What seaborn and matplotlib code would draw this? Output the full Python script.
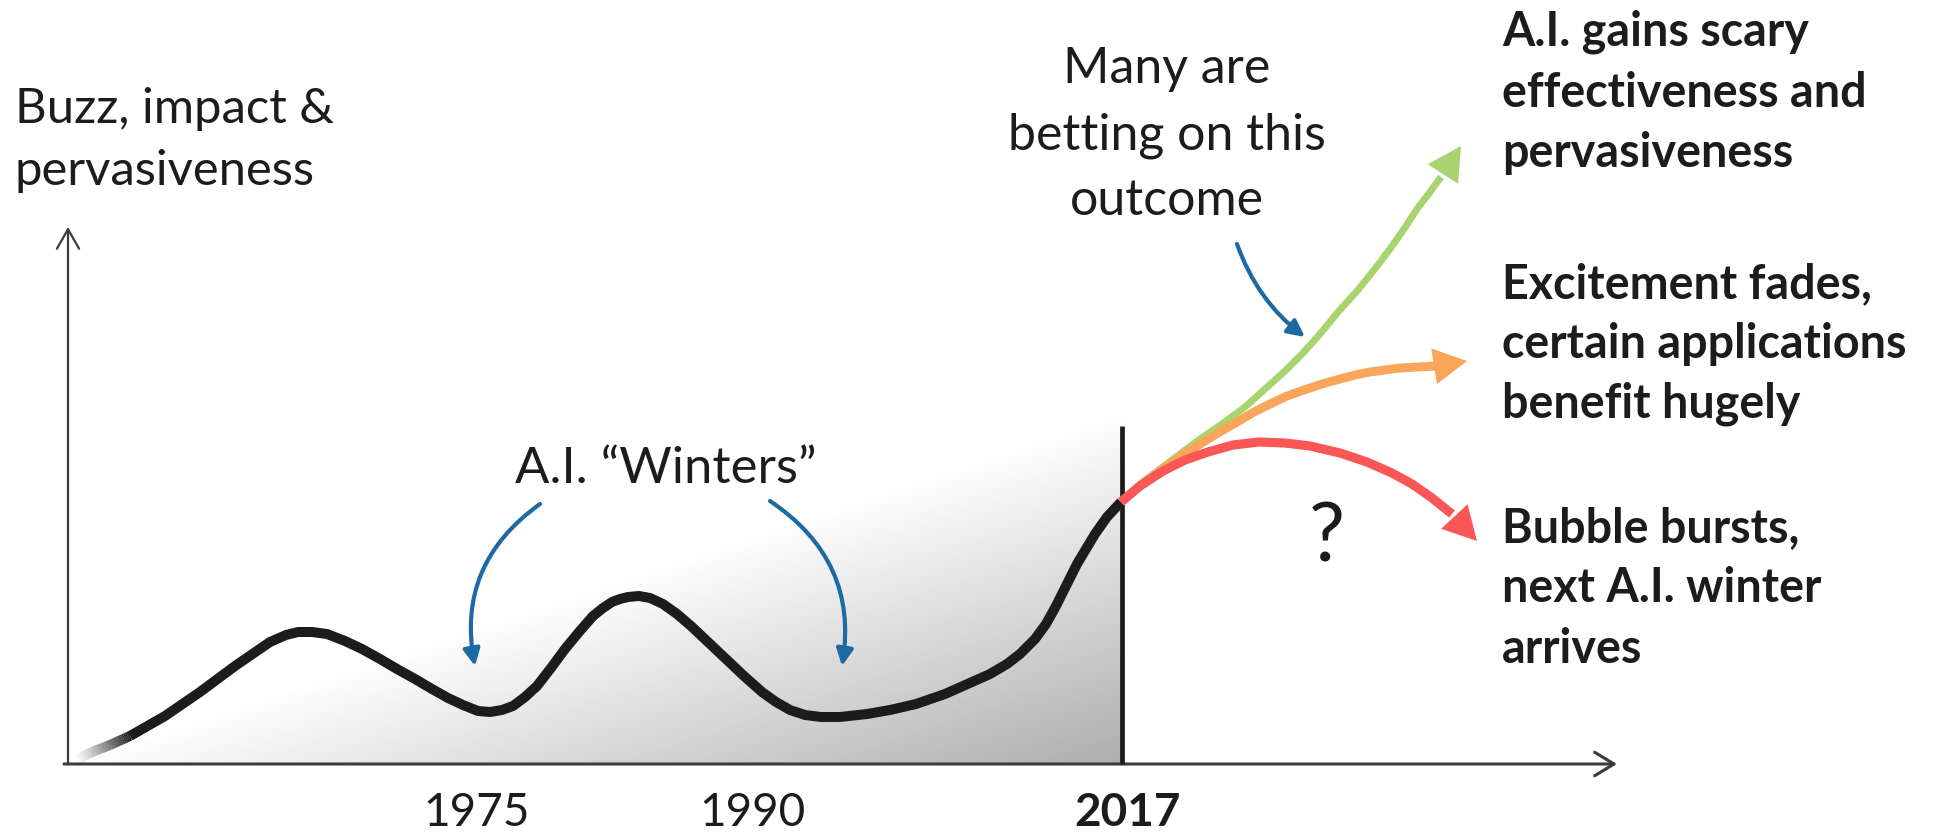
import numpy as np
import matplotlib
matplotlib.use("Agg")
import matplotlib.pyplot as plt
import seaborn as sns
from matplotlib.collections import LineCollection

# ---------------- data (canvas units of the 1937x837 diagram, y grows downward) -------------
hype_x = [130, 165, 200, 235, 270, 286, 298, 312, 327, 345, 362, 380, 397, 415, 432, 448, 463,
          478, 490, 502, 513, 525, 537, 551, 565, 579, 593, 603, 612, 620, 628, 639, 650, 663,
          677, 691, 708, 726, 744, 762, 776, 790, 805, 821, 840, 867, 890, 916, 945, 972, 990,
          1007, 1020, 1035, 1046, 1056, 1066, 1077, 1086, 1095, 1107, 1121]
hype_y = [737, 717, 693, 667, 643, 636, 633, 633, 635, 642, 650, 660, 670, 680, 690, 699, 706,
          712, 713, 711, 707, 698, 687, 669, 650, 633, 617, 609, 603, 600, 598, 597, 599, 605,
          615, 627, 643, 660, 677, 693, 703, 711, 716, 718, 718, 715, 711, 705, 695, 683, 675,
          665, 655, 640, 625, 607, 587, 565, 550, 535, 518, 503]
fade_x = [76, 92, 110, 130]
fade_y = [761, 753, 746, 737]

green_x = [1121, 1140, 1160, 1180, 1200, 1222, 1245, 1265, 1285, 1303, 1320, 1338, 1357, 1374,
           1390, 1404, 1417, 1430, 1441]
green_y = [503, 485, 470, 455, 440, 425, 408, 390, 372, 354, 335, 313, 292, 271, 250, 230, 210,
           193, 178]
green_tip = (1461, 147)

orange_x = [1121, 1140, 1160, 1180, 1200, 1218, 1237, 1254, 1270, 1287, 1304, 1322, 1340, 1355,
            1370, 1385, 1400, 1418, 1436]
orange_y = [503, 487, 472, 458, 445, 434, 423, 413, 405, 397, 391, 385, 380, 376, 373, 371, 369,
            368, 367]
orange_tip = (1467, 362)

red_x = [1121, 1140, 1163, 1185, 1208, 1233, 1259, 1285, 1310, 1340, 1367, 1392, 1412, 1432, 1452]
red_y = [503, 487, 472, 461, 453, 446, 443, 444, 447, 454, 463, 474, 485, 499, 515]
red_tip = (1477, 542)

now_x = 1122          # 2017 divider
now_top = 427
axis_y = 765
axis_x0, axis_x1 = 64, 1617
yaxis_x, yaxis_top = 68, 228

tick_labels = ["1975", "1990", "2017"]
tick_pos = [476, 752, 1127]
tick_bold = [False, False, True]

ylabel_lines = ["Buzz, impact &", "pervasiveness"]
winters_text = "A.I. \u201cWinters\u201d"
betting_lines = ["Many are", "betting on this", "outcome"]
outcome_labels = [
    ["A.I. gains scary", "effectiveness and", "pervasiveness"],
    ["Excitement fades,", "certain applications", "benefit hugely"],
    ["Bubble bursts,", "next A.I. winter", "arrives"],
]

# ---------------- style --------------------------------------------------------------------------
sns.set_theme(style="white")
plt.rcParams["font.family"] = ["Lato", "DejaVu Sans"]

TXT = "#1c1c1c"
GREEN, ORANGE, RED, BLUE = "#a8d46f", "#f9a55b", "#fc5656", "#1d69a3"

fig = plt.figure(figsize=(19.37, 8.37), dpi=100)
ax = fig.add_axes([0, 0, 1, 1])

# ---------------- gradient shading under the hype curve ----------------------------------------
gx = np.linspace(yaxis_x, now_x, 400)
gy = np.linspace(400, axis_y, 220)
GX, GY = np.meshgrid(gx, gy)
Z = np.clip(0.80 - 0.000300 * (GX - 761) - 0.000900 * (GY - 753), 0.0, 1.0)
ax.imshow(Z, extent=(yaxis_x, now_x, axis_y, 400), origin="upper", cmap="gray",
          vmin=0, vmax=1, interpolation="bilinear", aspect="auto", zorder=1)
ax.set_xlim(0, 1937)
ax.set_ylim(837, 0)
ax.axis("off")

# ---------------- axes arrows ---------------------------------------------------------------------
ax.annotate("", xy=(axis_x1, axis_y), xytext=(axis_x0, axis_y),
            arrowprops=dict(arrowstyle="->,head_length=14,head_width=8.5", mutation_scale=1,
                            lw=2.2, color="#3c3c3c", shrinkA=0, shrinkB=0), zorder=3)
ax.annotate("", xy=(yaxis_x, yaxis_top), xytext=(yaxis_x, axis_y),
            arrowprops=dict(arrowstyle="->,head_length=14,head_width=8", mutation_scale=1,
                            lw=1.6, color="#3c3c3c", shrinkA=0, shrinkB=0), zorder=3)

# ---------------- hype curve ----------------------------------------------------------------------
sns.lineplot(x=hype_x, y=hype_y, sort=False, estimator=None, ax=ax, color="#1c1c1c",
             lw=7.2, solid_capstyle="butt", solid_joinstyle="round", zorder=4)
# faded beginning of the curve (rendering: split the short lead-in into small alpha steps)
fx = np.array(fade_x, float)
fy = np.array(fade_y, float)
segs, alphas = [], []
nsub = 12
for i in range(len(fx) - 1):
    for k in range(nsub):
        t0, t1 = k / nsub, (k + 1.05) / nsub
        segs.append([(fx[i] + (fx[i + 1] - fx[i]) * t0, fy[i] + (fy[i + 1] - fy[i]) * t0),
                     (fx[i] + (fx[i + 1] - fx[i]) * t1, fy[i] + (fy[i + 1] - fy[i]) * t1)])
        alphas.append((i * nsub + k + 0.5) / ((len(fx) - 1) * nsub))
lc = LineCollection(segs, colors=[(0.11, 0.11, 0.11, a ** 1.3) for a in alphas],
                    linewidths=7.2, capstyle="butt", zorder=4)
ax.add_collection(lc)

# 2017 divider
ax.plot([now_x, now_x], [now_top, axis_y], color="#1c1c1c", lw=3.4, zorder=5,
        solid_capstyle="butt")

# ---------------- future scenarios ------------------------------------------------------------
for xs, ys, tip, col, lw in [(green_x, green_y, green_tip, GREEN, 5.0),
                             (orange_x, orange_y, orange_tip, ORANGE, 6.4),
                             (red_x, red_y, red_tip, RED, 6.6)]:
    sns.lineplot(x=xs, y=ys, sort=False, estimator=None, ax=ax, color=col, lw=lw,
                 solid_capstyle="butt", solid_joinstyle="round", zorder=6)
    ax.annotate("", xy=tip, xytext=(xs[-1], ys[-1]),
                arrowprops=dict(arrowstyle="-|>,head_length=24,head_width=13", mutation_scale=1,
                                lw=0, color=col, shrinkA=0, shrinkB=0), zorder=7)

# ---------------- blue pointer arrows -----------------------------------------------------------
blue_arrows = [((540, 505), (475, 667), 0.32),
               ((770, 502), (842, 667), -0.32),
               ((1237, 245), (1305, 338), 0.15)]
for start, end, rad in blue_arrows:
    ax.annotate("", xy=end, xytext=start,
                arrowprops=dict(arrowstyle="-|>,head_length=10,head_width=5", mutation_scale=1,
                                lw=3.0, color=BLUE, shrinkA=0, shrinkB=0,
                                connectionstyle=f"arc3,rad={rad}"), zorder=6)

# ---------------- texts ---------------------------------------------------------------------------
for line, yb in zip(ylabel_lines, [123, 185]):
    ax.text(15, yb, line, fontsize=35.3, color=TXT, ha="left", va="baseline")

ax.text(515, 483, winters_text, fontsize=36.5, color=TXT, ha="left", va="baseline")

for line, yb in zip(betting_lines, [83, 149, 215]):
    ax.text(1167, yb, line, fontsize=36, color=TXT, ha="center", va="baseline")

for lines, bases in zip(outcome_labels, [[45, 107, 167], [298, 358, 417], [542, 602, 663]]):
    for line, yb in zip(lines, bases):
        ax.text(1502, yb, line, fontsize=33.6, fontweight="bold", color=TXT,
                ha="left", va="baseline")

for lab, xp, b in zip(tick_labels, tick_pos, tick_bold):
    ax.text(xp, 826, lab, fontsize=33, fontweight="bold" if b else "normal", color=TXT,
            ha="center", va="baseline")

ax.text(1327, 561, "?", fontsize=58, color=TXT, ha="center", va="baseline")

fig.savefig("out.png", dpi=100, facecolor="white")
